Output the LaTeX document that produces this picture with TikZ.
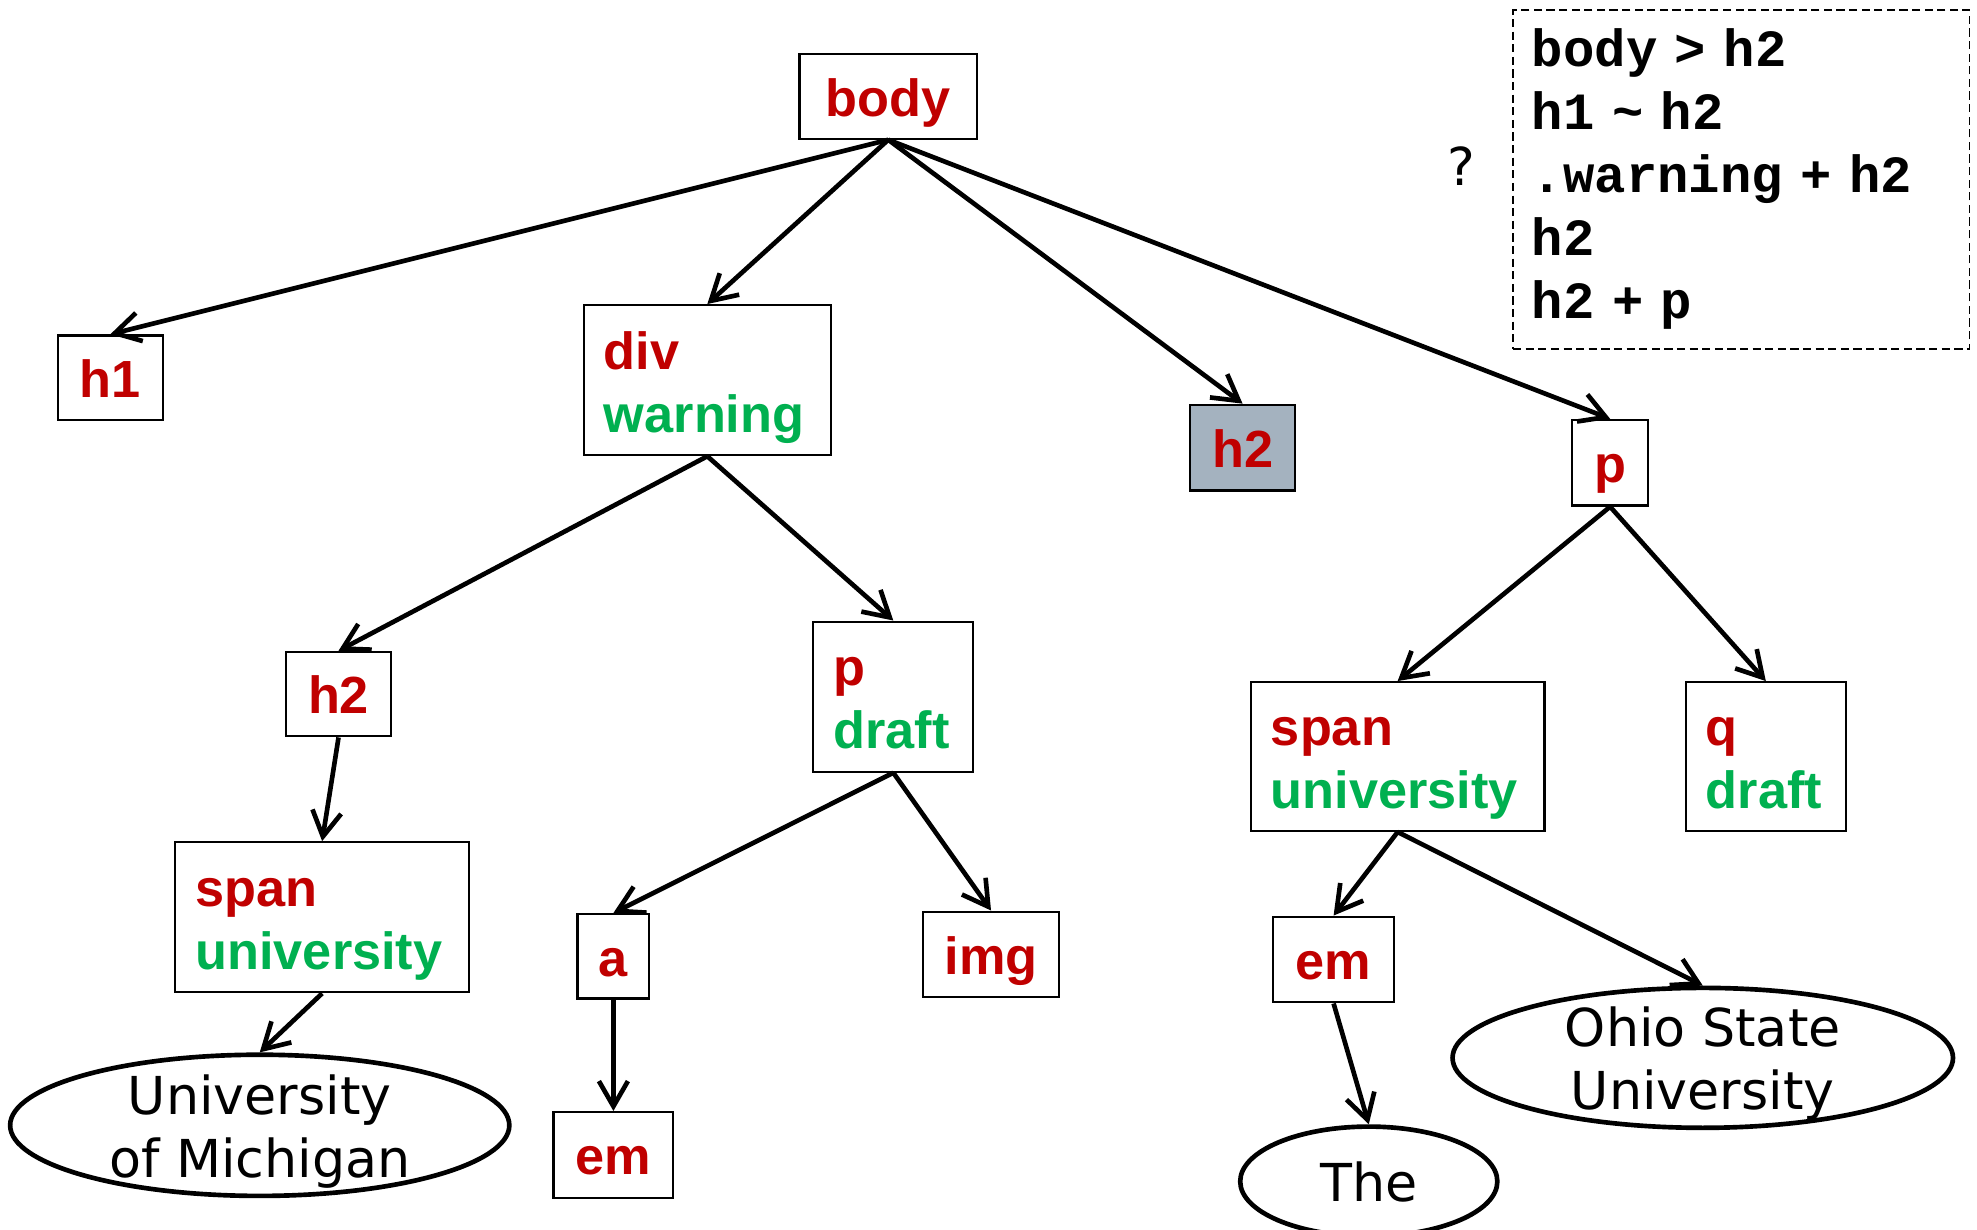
\documentclass[tikz,border=0pt]{standalone}
\usepackage{fontspec}
\newfontfamily\tagsans{Liberation Sans}
\newfontfamily\plainsans{DejaVu Sans}
\newfontfamily\codemono{Liberation Mono}
\definecolor{tagred}{RGB}{192, 0, 0}
\definecolor{classgreen}{RGB}{0, 176, 80}
\definecolor{hitgray}{RGB}{164, 178, 191}
\usetikzlibrary{shapes.geometric, arrows.meta}
\newcommand{\elem}[2]{\rule{0pt}{23.6pt}\textcolor{tagred}{#1}\\\textcolor{classgreen}{#2}\rule[-5.2pt]{0pt}{5.2pt}}

\begin{document}
\begin{tikzpicture}[x=0.02cm, y=-0.02cm,
  box/.style={draw, line width=1pt, inner sep=0pt, font=\tagsans\bfseries\fontsize{23.6}{28.45}\selectfont},
  tagbox/.style={box, text=tagred, text height=23.1pt, text depth=5.2pt},
  attrbox/.style={box, align=left, inner xsep=0.32cm, text width=#1},
  leaf/.style={ellipse, draw, line width=2.1pt, inner sep=0pt},
  leaftext/.style={align=center, font=\plainsans\fontsize{23.6}{28.45}\selectfont},
  link/.style={-{Straight Barb[length=0.4cm, width=0.46cm]}, line width=2.1pt}]
  \useasboundingbox (0,0) rectangle (1568,975.5);

  % top levels
  \node[tagbox, minimum width=2.82cm, minimum height=1.34cm] (body) at (704.5,76.5) {body};
  \node[tagbox, minimum width=1.66cm, minimum height=1.34cm] (h1) at (87.5,299.5) {h1};
  \node[attrbox=3.28cm, minimum height=2.38cm] (div) at (561,301.5) {\elem{div}{warning}};
  \node[tagbox, fill=hitgray, minimum width=1.66cm, minimum height=1.36cm] (h2hit) at (985.5,355) {h2};
  \node[tagbox, minimum width=1.2cm, minimum height=1.36cm] (ptop) at (1277,367) {p};

  % below div
  \node[tagbox, minimum width=1.66cm, minimum height=1.34cm] (h2div) at (268.5,550.5) {h2};
  \node[attrbox=1.9cm, minimum height=2.38cm] (pdraft) at (708.5,552.5) {\elem{p}{draft}};
  \node[attrbox=4.02cm, minimum height=2.38cm] (spanmich) at (255.5,727.5) {\elem{span}{university}};
  \node[tagbox, minimum width=1.14cm, minimum height=1.34cm] (alink) at (486.5,758.5) {a};
  \node[tagbox, minimum width=2.16cm, minimum height=1.36cm] (img) at (786,757) {img};
  \node[tagbox, minimum width=1.9cm, minimum height=1.36cm] (ema) at (486.5,916) {em};
  \node[leaf, minimum width=7.92cm, minimum height=2.24cm,
    label={[leaftext]center:\rule{0pt}{23.6pt}University\\of Michigan\rule[-5.2pt]{0pt}{5.2pt}}] (michigan) at (206,892.5) {};

  % below p
  \node[attrbox=4.02cm, minimum height=2.36cm] (spanosu) at (1108.5,600) {\elem{span}{university}};
  \node[attrbox=1.9cm, minimum height=2.36cm] (qdraft) at (1400.5,600) {\elem{q}{draft}};
  \node[tagbox, minimum width=1.92cm, minimum height=1.36cm] (emosu) at (1057.7,761) {em};
  \node[leaf, minimum width=7.94cm, minimum height=2.22cm,
    label={[leaftext]center:\rule{0pt}{23.6pt}Ohio State\\University\rule[-5.2pt]{0pt}{5.2pt}}] (ohio) at (1350.5,839) {};
  \node[leaf, minimum width=4.08cm, minimum height=1.74cm,
    label={[leaftext, text height=23.1pt, text depth=5.2pt]center:The}] (the) at (1085.6,937) {};

  % selectors
  \node[draw, line width=0.8pt, dash pattern=on 0.13cm off 0.07cm, minimum width=7.24cm, minimum height=5.38cm,
    inner sep=0pt, inner xsep=0.3cm, text width=6.64cm, align=left,
    font=\codemono\bfseries\fontsize{23.6}{28.45}\selectfont] (selectors) at (1381,142.5) {
    \rule{0pt}{16pt}body > h2\\
    h1 \textasciitilde{} h2\\
    .warning + h2\\
    h2\\
    h2 + p\rule[-5.8pt]{0pt}{5.8pt}
  };
  \node[font=\plainsans\fontsize{23.6}{28.45}\selectfont] (query) at (1159,132) {?};

  % edges
  \draw[link] (body.south) -- (h1.north);
  \draw[link] (body.south) -- (div.north);
  \draw[link] (body.south) -- (h2hit.north);
  \draw[link] (body.south) -- (ptop.north);
  \draw[link] (div.south) -- (h2div.north);
  \draw[link] (div.south) -- (pdraft.north);
  \draw[link] (h2div.south) -- (spanmich.north);
  \draw[link] (spanmich.south) -- (michigan.north);
  \draw[link] (pdraft.south) -- (alink.north);
  \draw[link] (pdraft.south) -- (img.north);
  \draw[link] (alink.south) -- (ema.north);
  \draw[link] (ptop.south) -- (spanosu.north);
  \draw[link] (ptop.south) -- (qdraft.north);
  \draw[link] (spanosu.south) -- (emosu.north);
  \draw[link] (spanosu.south) -- (ohio.north);
  \draw[link] (emosu.south) -- (the.north);
\end{tikzpicture}
\end{document}
